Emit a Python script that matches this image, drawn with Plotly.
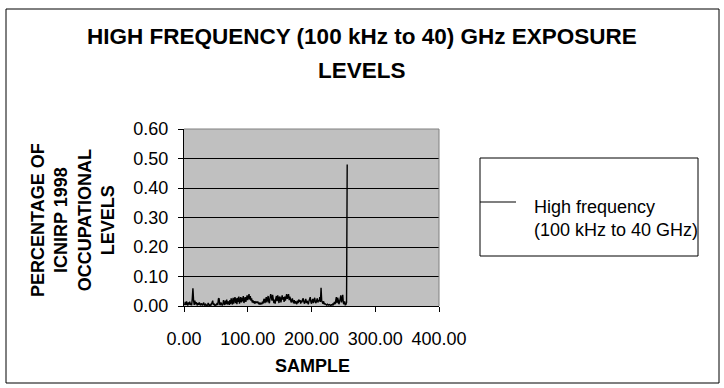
import plotly.graph_objects as go

# Sample index and measured exposure (fraction of ICNIRP 1998 occupational levels)
samples = list(range(1, 257))
exposure = [
    0.003, 0.014, 0.004, 0.016, 0.006, 0.002, 0.012, 0.005, 0.015, 0.004,
    0.008, 0.003, 0.025, 0.060, 0.020, 0.004, 0.018, 0.006, 0.013, 0.003,
    0.002, 0.010, 0.004, 0.012, 0.003, 0.002, 0.009, 0.003, 0.002, 0.008,
    0.011, 0.003, 0.002, 0.006, 0.002, 0.001, 0.004, 0.010, 0.003, 0.002,
    0.005, 0.002, 0.006, 0.016, 0.018, 0.004, 0.008, 0.003, 0.002, 0.005,
    0.004, 0.010, 0.003, 0.024, 0.026, 0.006, 0.003, 0.012, 0.004, 0.002,
    0.005, 0.020, 0.008, 0.004, 0.018, 0.006, 0.022, 0.005, 0.016, 0.010,
    0.004, 0.020, 0.006, 0.026, 0.012, 0.005, 0.028, 0.008, 0.022, 0.030,
    0.010, 0.026, 0.006, 0.028, 0.014, 0.032, 0.008, 0.024, 0.030, 0.012,
    0.028, 0.016, 0.034, 0.010, 0.026, 0.030, 0.014, 0.024, 0.036, 0.020,
    0.030, 0.040, 0.022, 0.034, 0.018, 0.026, 0.012, 0.020, 0.010, 0.016,
    0.008, 0.014, 0.012, 0.015, 0.010, 0.013, 0.009, 0.006, 0.012, 0.005,
    0.010, 0.006, 0.015, 0.008, 0.020, 0.024, 0.010, 0.026, 0.030, 0.012,
    0.024, 0.034, 0.014, 0.010, 0.028, 0.040, 0.030, 0.018, 0.038, 0.024,
    0.010, 0.022, 0.008, 0.026, 0.034, 0.016, 0.036, 0.026, 0.010, 0.032,
    0.028, 0.012, 0.020, 0.036, 0.022, 0.030, 0.014, 0.032, 0.018, 0.028,
    0.040, 0.024, 0.030, 0.040, 0.020, 0.032, 0.024, 0.012, 0.018, 0.026,
    0.014, 0.010, 0.020, 0.008, 0.016, 0.012, 0.006, 0.018, 0.010, 0.022,
    0.014, 0.020, 0.008, 0.018, 0.012, 0.022, 0.026, 0.014, 0.008, 0.016,
    0.024, 0.010, 0.018, 0.012, 0.006, 0.016, 0.022, 0.030, 0.014, 0.008,
    0.018, 0.024, 0.010, 0.020, 0.028, 0.014, 0.010, 0.018, 0.026, 0.012,
    0.020, 0.016, 0.030, 0.014, 0.062, 0.018, 0.012, 0.008, 0.016, 0.006,
    0.008, 0.005, 0.004, 0.003, 0.006, 0.004, 0.003, 0.005, 0.003, 0.002,
    0.004, 0.003, 0.006, 0.003, 0.008, 0.014, 0.006, 0.022, 0.030, 0.010,
    0.028, 0.020, 0.006, 0.014, 0.030, 0.036, 0.012, 0.024, 0.038, 0.010,
    0.006, 0.016, 0.004, 0.005, 0.012, 0.480,
]

x_ticks = [0, 100, 200, 300, 400]
y_ticks = [0.0, 0.1, 0.2, 0.3, 0.4, 0.5, 0.6]

series_name = "High frequency<br>(100 kHz to 40 GHz)"
title_lines = ["HIGH FREQUENCY (100 kHz to 40) GHz EXPOSURE", "LEVELS"]
y_title = "PERCENTAGE OF<br>ICNIRP 1998<br>OCCUPATIONAL<br>LEVELS"
x_title = "SAMPLE"

FONT = "Liberation Sans, Arial, sans-serif"
W, H = 724, 388
L, R, T, B = 184, 285, 129, 82
pw, ph = W - L - R, H - T - B


def px(x):
    return (x - L) / pw


def py(y):
    return (H - B - y) / ph


fig = go.Figure()
fig.add_trace(go.Scatter(
    x=samples, y=exposure, mode="lines", name=series_name,
    line=dict(color="black", width=1.4), showlegend=False,
))

fig.update_layout(
    width=W, height=H,
    margin=dict(l=L, r=R, t=T, b=B),
    paper_bgcolor="white",
    plot_bgcolor="#c0c0c0",
    font=dict(family=FONT, size=18, color="black"),
    xaxis=dict(
        range=[0, 400], tickvals=x_ticks, tickformat=".2f",
        showgrid=False, zeroline=False,
        showline=True, linecolor="black", linewidth=1,
        ticks="outside", ticklen=5, tickcolor="black",
        ticklabelstandoff=11,
    ),
    yaxis=dict(
        range=[0, 0.6], tickvals=y_ticks, tickformat=".2f",
        showgrid=True, gridcolor="black", gridwidth=1, zeroline=False,
        showline=True, linecolor="black", linewidth=1,
        ticks="outside", ticklen=5, tickcolor="black",
        ticklabelstandoff=6,
    ),
)

shapes = [
    # outer chart frame
    dict(type="rect", xref="paper", yref="paper",
         x0=px(6), x1=px(719), y0=py(383), y1=py(9),
         line=dict(color="black", width=1), fillcolor="rgba(0,0,0,0)", layer="below"),
    # plot area top/right border
    dict(type="line", xref="paper", yref="paper", x0=0, x1=1, y0=1, y1=1,
         line=dict(color="#808080", width=1)),
    dict(type="line", xref="paper", yref="paper", x0=1, x1=1, y0=0, y1=1,
         line=dict(color="#808080", width=1)),
    # legend box and key line
    dict(type="rect", xref="paper", yref="paper",
         x0=px(480), x1=px(698), y0=py(256), y1=py(158),
         line=dict(color="black", width=1), fillcolor="white"),
    dict(type="line", xref="paper", yref="paper",
         x0=px(480), x1=px(516), y0=py(202), y1=py(202),
         line=dict(color="black", width=1.2)),
]

title_font = dict(family=FONT, size=22.5, color="black", weight="bold")
annotations = [
    dict(text=title_lines[0], xref="paper", yref="paper", x=px(362), y=py(37),
         xanchor="center", yanchor="middle", showarrow=False, font=title_font),
    dict(text=title_lines[1], xref="paper", yref="paper", x=px(362), y=py(70),
         xanchor="center", yanchor="middle", showarrow=False, font=title_font),
    dict(text=y_title, xref="paper", yref="paper", x=px(73), y=py(220),
         xanchor="center", yanchor="middle", showarrow=False, textangle=-90,
         font=dict(family=FONT, size=18, color="black", weight="bold")),
    dict(text=x_title, xref="paper", yref="paper", x=px(312), y=py(366),
         xanchor="center", yanchor="middle", showarrow=False,
         font=dict(family=FONT, size=18, color="black", weight="bold")),
    dict(text=series_name, xref="paper", yref="paper", x=px(532), y=py(218),
         xanchor="left", yanchor="middle", showarrow=False, align="left",
         font=dict(family=FONT, size=18, color="black")),
]

fig.update_layout(shapes=shapes, annotations=annotations)
fig.write_html("out.html")
